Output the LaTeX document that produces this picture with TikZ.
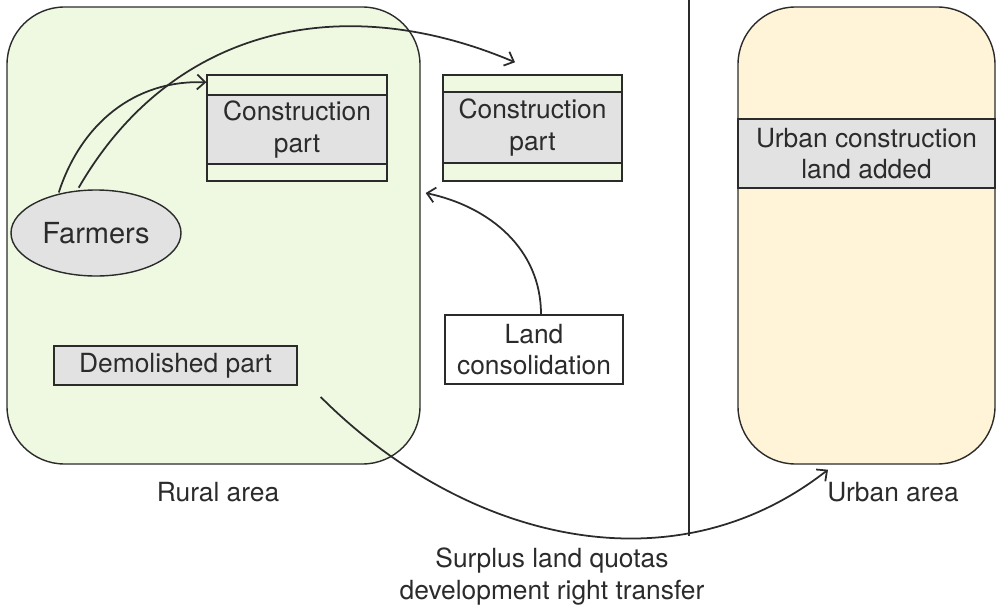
\documentclass[tikz,border=0pt]{standalone}
\usepackage{fontspec}
\setmainfont{TeX Gyre Heros}
\usetikzlibrary{arrows.meta,positioning,shapes.geometric}
\definecolor{Ink}{HTML}{2B2B2B}
\definecolor{Rural}{HTML}{EFF9E2}
\definecolor{Urban}{HTML}{FFF4D8}
\definecolor{Band}{HTML}{E2E2E2}
\tikzset{
  arr/.style={-{Straight Barb[length=1.6mm,width=3mm]},line width=1pt,draw=Ink},
  areabox/.style={draw=Ink,rounded corners=1.15cm,line width=0.8pt},
  stripbox/.style={draw=Ink,fill=Rural,line width=0.8pt},
  bandbox/.style={draw=Ink,fill=Band,line width=0.8pt,align=center},
  plainbox/.style={draw=Ink,fill=white,line width=0.8pt,align=center}
}
\begin{document}
\begin{tikzpicture}[font=\fontsize{15pt}{18pt}\selectfont,text=Ink]
  \useasboundingbox (0,0) rectangle (19.96,12.08);
  % the two areas
  \node[areabox,fill=Rural,minimum width=8.26cm,minimum height=9.14cm] (rural) at (4.27,7.37) {};
  \node[areabox,fill=Urban,minimum width=5.14cm,minimum height=9.14cm] (urban) at (17.33,7.37) {};
  \node (rurallbl) at (4.36,2.24) {Rural area};
  \node (urbanlbl) at (17.86,2.24) {Urban area};
  \node[bandbox,minimum width=5.14cm,minimum height=1.38cm] (added) at (17.33,9.01) {Urban construction\\land added};
  % construction parts
  \node[stripbox,minimum width=3.6cm,minimum height=2.12cm] (cp1frame) at (5.94,9.52) {};
  \node[bandbox,minimum width=3.6cm,minimum height=1.38cm] (cp1) at (5.94,9.49) {Construction\\part};
  \node[stripbox,minimum width=3.58cm,minimum height=2.12cm] (cp2frame) at (10.65,9.52) {};
  \node[bandbox,minimum width=3.58cm,minimum height=1.42cm] (cp2) at (10.65,9.53) {Construction\\part};
  \node[ellipse,draw=Ink,fill=Band,line width=0.8pt,minimum width=3.4cm,minimum height=1.72cm,font=\fontsize{16.5pt}{19pt}\selectfont] (farmers) at (1.92,7.42) {Farmers};
  \node[bandbox,minimum width=4.86cm,minimum height=0.78cm] (demolished) at (3.51,4.77) {Demolished part};
  \node[plainbox,minimum width=3.56cm,minimum height=1.38cm] (land) at (10.68,5.09) {Land\\consolidation};
  \node[align=center] (transfer) at (11.04,0.55) {Surplus land quotas\\development right transfer};
  % divider
  \coordinate (divtop) at (13.78,12.08);
  \coordinate (divbot) at (13.78,1.36);
  \draw[Ink,line width=0.7pt] (divtop) -- (divbot);
  % flows
  \draw[arr] ([xshift=0.1cm,yshift=0.05cm]farmers.138) to[out=72,in=178] ([yshift=-0.16cm]cp1frame.north west);
  \draw[arr] ([yshift=0.05cm]farmers.112) to[out=60,in=157,looseness=1.05] ([xshift=-0.35cm,yshift=0.24cm]cp2frame.north);
  \draw[arr] ([xshift=0.14cm]land.north) to[out=90,in=-12] ([xshift=0.1cm,yshift=0.85cm]rural.east);
  \draw[arr] ([xshift=0.46cm,yshift=-0.63cm]demolished.east) to[out=-45,in=218,looseness=1.0] ([xshift=-0.77cm,yshift=-0.1cm]urban.south);
\end{tikzpicture}
\end{document}
